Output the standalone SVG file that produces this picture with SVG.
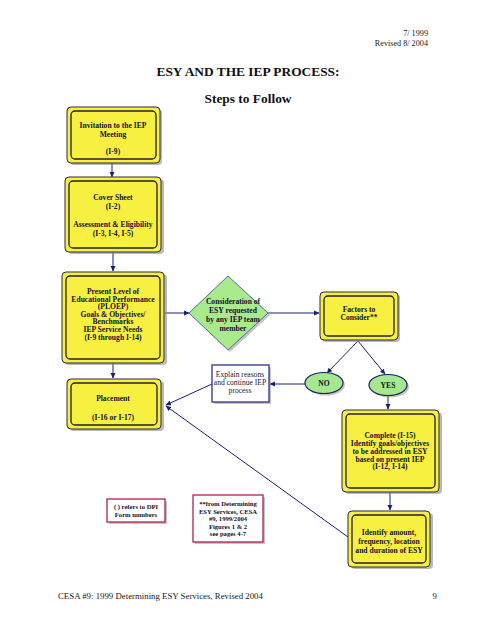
<svg xmlns="http://www.w3.org/2000/svg" width="495" height="640" viewBox="0 0 495 640">
<defs>
<marker id="ah" markerWidth="6" markerHeight="6" refX="5" refY="3" orient="auto" markerUnits="userSpaceOnUse">
<path d="M0,0.5 L5.5,3 L0,5.5 Z" fill="#1a2070"/>
</marker>
<style>
.sh{fill:#8a8a8a;opacity:0.6}
.ob{fill:#f8f040;stroke:#2a2a40;stroke-width:1}
.ib{fill:#f8f040;stroke:#202030;stroke-width:1.3}
.t{font-family:"Liberation Serif","Times New Roman",serif;font-weight:bold;font-size:7.6px;fill:#101028;text-anchor:middle}
.r{font-family:"Liberation Serif","Times New Roman",serif;font-size:7.6px;fill:#202040;text-anchor:middle}
.n{font-family:"Liberation Serif","Times New Roman",serif;font-weight:bold;font-size:6.6px;fill:#101028;text-anchor:middle}
.hd{font-family:"Liberation Serif","Times New Roman",serif;font-size:8.8px;fill:#202020}
.hs{font-family:"Liberation Serif","Times New Roman",serif;font-size:8.2px;fill:#202020;text-anchor:end}
.ti{font-family:"Liberation Serif","Times New Roman",serif;font-weight:bold;font-size:13.4px;fill:#101010;text-anchor:middle}
.c{fill:none;stroke:#1a2070;stroke-width:1}
.nb{fill:#ffffff;stroke:#b02050;stroke-width:1.3}
.el{fill:#a4e890;stroke:#1a2060;stroke-width:1.2}
</style>
</defs>
<rect width="495" height="640" fill="#ffffff"/>

<g id="header">
<text class="hs" x="428" y="36">7/ 1999</text>
<text class="hs" x="428" y="45.5">Revised 8/ 2004</text>
<text class="ti" x="248" y="76">ESY AND THE IEP PROCESS:</text>
<text class="ti" x="248" y="103">Steps to Follow</text>
</g>

<g id="connectors">
<line class="c" x1="112" y1="163" x2="112" y2="177" marker-end="url(#ah)"/>
<line class="c" x1="113" y1="252" x2="113" y2="271" marker-end="url(#ah)"/>
<line class="c" x1="113" y1="363" x2="113" y2="378" marker-end="url(#ah)"/>
<line class="c" x1="165" y1="313" x2="189" y2="313" marker-end="url(#ah)"/>
<line class="c" x1="268" y1="313" x2="319" y2="313" marker-end="url(#ah)"/>
<line class="c" x1="358" y1="341" x2="327" y2="373" marker-end="url(#ah)"/>
<line class="c" x1="358" y1="341" x2="385" y2="374" marker-end="url(#ah)"/>
<line class="c" x1="305" y1="384" x2="270" y2="384" marker-end="url(#ah)"/>
<line class="c" x1="212" y1="384" x2="166" y2="405" marker-end="url(#ah)"/>
<line class="c" x1="348" y1="537" x2="166" y2="406" marker-end="url(#ah)"/>
<line class="c" x1="388" y1="396" x2="388" y2="409" marker-end="url(#ah)"/>
<line class="c" x1="390" y1="492" x2="390" y2="510" marker-end="url(#ah)"/>
</g>

<g id="invitation">
<rect class="sh" x="70" y="109" width="92" height="56" rx="4"/>
<rect class="ob" x="67" y="107" width="93" height="56" rx="4"/>
<rect class="ib" x="71" y="111" width="85" height="48" rx="4"/>
<text class="t" x="113" y="128">Invitation to the IEP</text>
<text class="t" x="113" y="137">Meeting</text>
<text class="t" x="113" y="154">(I-9)</text>
</g>

<g id="cover">
<rect class="sh" x="68" y="179" width="96" height="75" rx="4"/>
<rect class="ob" x="65" y="177" width="96" height="75" rx="4"/>
<rect class="ib" x="69" y="181" width="88" height="67" rx="4"/>
<text class="t" x="113" y="200">Cover Sheet</text>
<text class="t" x="113" y="209">(I-2)</text>
<text class="t" x="113" y="227">Assessment &amp; Eligibility</text>
<text class="t" x="113" y="236">(I-3, I-4, I-5)</text>
</g>

<g id="present">
<rect class="sh" x="65" y="274" width="102" height="91" rx="4"/>
<rect class="ob" x="62" y="272" width="102" height="91" rx="4"/>
<rect class="ib" x="66" y="276" width="94" height="83" rx="4"/>
<text class="t" x="113" y="294">Present Level of</text>
<text class="t" x="113" y="301.6">Educational Performance</text>
<text class="t" x="113" y="309.2">(PLOEP)</text>
<text class="t" x="113" y="316.8">Goals &amp; Objectives/</text>
<text class="t" x="113" y="324.4">Benchmarks</text>
<text class="t" x="113" y="332">IEP Service Needs</text>
<text class="t" x="113" y="339.6">(I-9 through I-14)</text>
</g>

<g id="placement">
<rect class="sh" x="70" y="381" width="94" height="50" rx="4"/>
<rect class="ob" x="67" y="379" width="94" height="50" rx="4"/>
<rect class="ib" x="71" y="383" width="86" height="42" rx="4"/>
<text class="t" x="113" y="401">Placement</text>
<text class="t" x="113" y="420">(I-16 or I-17)</text>
</g>

<g id="consideration">
<polygon points="230,279 270,315 230,352 191,315" fill="#8a8a8a" opacity="0.5"/>
<polygon points="228,276 268,313 228,350 189,313" fill="#a8ea8c" stroke="#5868a8" stroke-width="1"/>
<text class="t" x="233" y="304">Consideration of</text>
<text class="t" x="233" y="313">ESY requested</text>
<text class="t" x="233" y="322">by any IEP team</text>
<text class="t" x="233" y="331">member</text>
</g>

<g id="factors">
<rect class="sh" x="322" y="294" width="78" height="48" rx="4"/>
<rect class="ob" x="320" y="292" width="78" height="48" rx="4"/>
<rect class="ib" x="324" y="296" width="70" height="40" rx="4"/>
<text class="t" x="359" y="312">Factors to</text>
<text class="t" x="359" y="320">Consider**</text>
</g>

<g id="no">
<ellipse cx="326" cy="385" rx="19" ry="10.5" fill="#8a8a8a" opacity="0.5"/>
<ellipse class="el" cx="324" cy="383" rx="19" ry="10.5"/>
<text class="t" x="324" y="386">NO</text>
</g>

<g id="yes">
<ellipse cx="390" cy="387" rx="19" ry="10.5" fill="#8a8a8a" opacity="0.5"/>
<ellipse class="el" cx="388" cy="385" rx="19" ry="10.5"/>
<text class="t" x="388" y="388">YES</text>
</g>

<g id="explain">
<rect x="214" y="367" width="57" height="37" fill="#8a8a8a" opacity="0.5"/>
<rect x="212" y="365" width="57" height="37" fill="#ffffff" stroke="#30308a" stroke-width="1.3"/>
<text class="r" x="240" y="377">Explain reasons</text>
<text class="r" x="240" y="385">and continue IEP</text>
<text class="r" x="240" y="393">process</text>
</g>

<g id="complete">
<rect class="sh" x="345" y="412" width="97" height="82" rx="4"/>
<rect class="ob" x="342" y="410" width="97" height="82" rx="4"/>
<rect class="ib" x="346" y="414" width="89" height="74" rx="4"/>
<text class="t" x="390" y="438">Complete (I-15)</text>
<text class="t" x="390" y="446">Identify goals/objectives</text>
<text class="t" x="390" y="454">to be addressed in ESY</text>
<text class="t" x="390" y="461.5">based on present IEP</text>
<text class="t" x="390" y="469">(I-12, I-14)</text>
</g>

<g id="identify">
<rect class="sh" x="351" y="513" width="82" height="56" rx="4"/>
<rect class="ob" x="348" y="511" width="82" height="56" rx="4"/>
<rect class="ib" x="352" y="515" width="74" height="48" rx="4"/>
<text class="t" x="389" y="535">Identify amount,</text>
<text class="t" x="389" y="544">frequency, location</text>
<text class="t" x="389" y="553">and duration of ESY</text>
</g>

<g id="note-dpi">
<rect x="109" y="501" width="58" height="23" fill="#8a8a8a" opacity="0.5"/>
<rect class="nb" x="107" y="499" width="58" height="23"/>
<text class="n" x="136" y="509">( ) refers to DPI</text>
<text class="n" x="136" y="517">Form numbers</text>
</g>

<g id="note-cesa">
<rect x="195" y="497" width="70" height="47" fill="#8a8a8a" opacity="0.5"/>
<rect class="nb" x="193" y="495" width="70" height="47"/>
<text class="n" x="228" y="506">**from Determining</text>
<text class="n" x="228" y="513.5">ESY Services, CESA</text>
<text class="n" x="228" y="521">#9, 1999/2004</text>
<text class="n" x="228" y="528.5">Figures 1 &amp; 2</text>
<text class="n" x="228" y="536">see pages 4-7</text>
</g>

<g id="footer">
<text class="hd" x="58" y="599">CESA #9: 1999 Determining ESY Services, Revised 2004</text>
<text class="hd" x="437" y="599" text-anchor="end">9</text>
</g>
</svg>
